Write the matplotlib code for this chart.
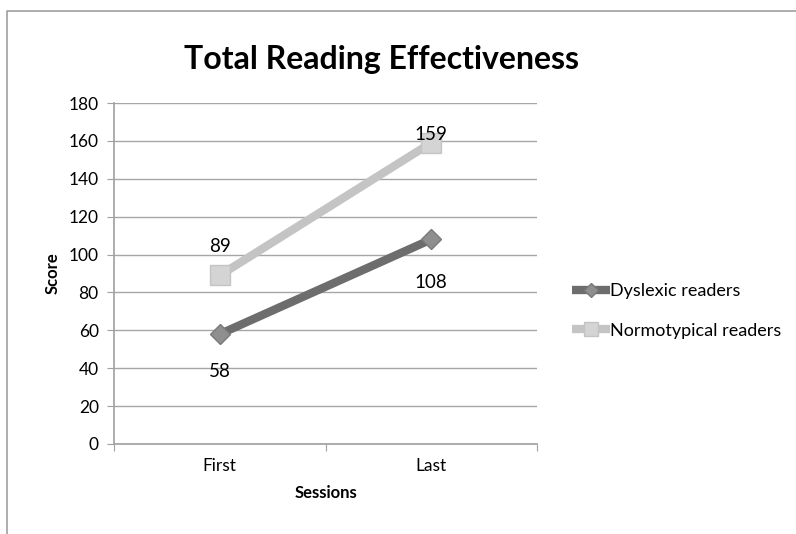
import numpy as np
import matplotlib
matplotlib.use("Agg")
import matplotlib.pyplot as plt
from matplotlib.lines import Line2D

sessions = ["First", "Last"]
dyslexic = [58, 108]
normotypical = [89, 159]
series_names = ["Dyslexic readers", "Normotypical readers"]

plt.rcParams['font.family'] = ['Lato', 'DejaVu Sans']

fig = plt.figure(figsize=(7.96, 5.34), dpi=100)
ax = fig.add_axes([114 / 796, 1 - 444 / 534, 423 / 796, 341 / 534])

# outer chart frame (only top and left edges are visible in the crop)
fig.add_artist(Line2D([7 / 796, 7 / 796, 1.0], [0.0, 1 - 11 / 534, 1 - 11 / 534],
                      transform=fig.transFigure, color="#a0a0a0", lw=1.2))

x = np.array([0.5, 1.5])
ax.plot(x, dyslexic, color="#6d6d6d", lw=6, marker="D", markersize=10,
        markerfacecolor="#8f8f8f", markeredgecolor="#7a7a7a", markeredgewidth=1,
        label=series_names[0], zorder=3, solid_capstyle="butt")
ax.plot(x, normotypical, color="#c4c4c4", lw=6, marker="s", markersize=14,
        markerfacecolor="#d4d4d4", markeredgecolor="#c4c4c4", markeredgewidth=1,
        label=series_names[1], zorder=3, solid_capstyle="butt")

# data labels
lab = 13.5
ax.annotate(str(normotypical[0]), (x[0], normotypical[0]), xytext=(0, 15),
            textcoords="offset points", ha="center", va="bottom", fontsize=lab)
ax.annotate(str(normotypical[1]), (x[1], normotypical[1]), xytext=(0, 0),
            textcoords="offset points", ha="center", va="bottom", fontsize=lab)
ax.annotate(str(dyslexic[0]), (x[0], dyslexic[0]), xytext=(0, -21),
            textcoords="offset points", ha="center", va="top", fontsize=lab)
ax.annotate(str(dyslexic[1]), (x[1], dyslexic[1]), xytext=(0, -25),
            textcoords="offset points", ha="center", va="top", fontsize=lab)

ax.set_xlim(0, 2)
ax.set_ylim(0, 180)
ax.set_yticks(np.arange(0, 181, 20))
ax.set_xticks([0, 1, 2])
ax.set_xticklabels([])
ax.set_xticks(x, minor=True)
ax.set_xticklabels(sessions, minor=True)
ax.tick_params(axis="x", which="minor", length=0, pad=10, labelsize=12.5)
ax.tick_params(axis="x", which="major", length=5, color="#a0a0a0", direction="out")
ax.tick_params(axis="y", length=5, color="#a0a0a0", direction="out", labelsize=12.5, pad=6)
ax.yaxis.grid(True, color="#a6a6a6", lw=1)
ax.set_axisbelow(True)
for s in ["top", "right"]:
    ax.spines[s].set_visible(False)
for s in ["left", "bottom"]:
    ax.spines[s].set_color("#a0a0a0")
    ax.spines[s].set_linewidth(1.2)

ax.set_xlabel("Sessions", fontweight="bold", fontsize=12, labelpad=8)
ax.set_ylabel("Score", fontweight="bold", fontsize=12, labelpad=6)
fig.text(381 / 796, 1 - 60 / 534, "Total Reading Effectiveness", ha="center", va="center",
         fontsize=23, fontweight="bold")

fig.legend(loc="center left", bbox_to_anchor=(556 / 796, 1 - 311 / 534), frameon=False,
           fontsize=13, handlelength=2.1, handletextpad=0.0, labelspacing=1.3,
           markerscale=0.7)

fig.savefig("out.png", dpi=100)
